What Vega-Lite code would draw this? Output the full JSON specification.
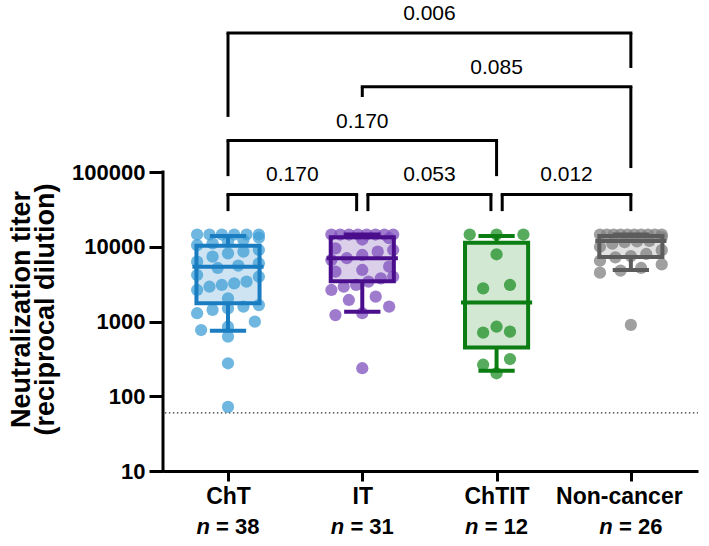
{
  "$schema": "https://vega.github.io/schema/vega-lite/v6.json",
  "width": 535,
  "height": 471,
  "autosize": {"type": "none"},
  "padding": {"left": 163, "top": 0, "right": 11, "bottom": 75},
  "background": "white",
  "config": {"view": {"stroke": null}, "font": "Liberation Sans"},
  "datasets": {
    "points": [
      {"group": "ChT", "titer": 14580}, {"group": "ChT", "titer": 14580}, {"group": "ChT", "titer": 14580},
      {"group": "ChT", "titer": 14580}, {"group": "ChT", "titer": 14580}, {"group": "ChT", "titer": 14580},
      {"group": "ChT", "titer": 13200}, {"group": "ChT", "titer": 12300}, {"group": "ChT", "titer": 11700},
      {"group": "ChT", "titer": 11100}, {"group": "ChT", "titer": 10500}, {"group": "ChT", "titer": 9060},
      {"group": "ChT", "titer": 8600}, {"group": "ChT", "titer": 8170}, {"group": "ChT", "titer": 7370},
      {"group": "ChT", "titer": 6310}, {"group": "ChT", "titer": 6010}, {"group": "ChT", "titer": 5600},
      {"group": "ChT", "titer": 5200}, {"group": "ChT", "titer": 4190}, {"group": "ChT", "titer": 3970},
      {"group": "ChT", "titer": 3410}, {"group": "ChT", "titer": 3240}, {"group": "ChT", "titer": 3080},
      {"group": "ChT", "titer": 2920}, {"group": "ChT", "titer": 2640}, {"group": "ChT", "titer": 2040},
      {"group": "ChT", "titer": 1660}, {"group": "ChT", "titer": 1580}, {"group": "ChT", "titer": 1500},
      {"group": "ChT", "titer": 1430}, {"group": "ChT", "titer": 1290}, {"group": "ChT", "titer": 994},
      {"group": "ChT", "titer": 851}, {"group": "ChT", "titer": 769}, {"group": "ChT", "titer": 627},
      {"group": "ChT", "titer": 276}, {"group": "ChT", "titer": 72},
      {"group": "IT", "titer": 14580}, {"group": "IT", "titer": 14580}, {"group": "IT", "titer": 14580},
      {"group": "IT", "titer": 14580}, {"group": "IT", "titer": 14580}, {"group": "IT", "titer": 14580},
      {"group": "IT", "titer": 14580}, {"group": "IT", "titer": 14580}, {"group": "IT", "titer": 13000},
      {"group": "IT", "titer": 12500}, {"group": "IT", "titer": 9530}, {"group": "IT", "titer": 9060},
      {"group": "IT", "titer": 8600}, {"group": "IT", "titer": 7760}, {"group": "IT", "titer": 7020},
      {"group": "IT", "titer": 6650}, {"group": "IT", "titer": 5410}, {"group": "IT", "titer": 4890},
      {"group": "IT", "titer": 4640}, {"group": "IT", "titer": 3970}, {"group": "IT", "titer": 3780},
      {"group": "IT", "titer": 3410}, {"group": "IT", "titer": 3080}, {"group": "IT", "titer": 2920},
      {"group": "IT", "titer": 2640}, {"group": "IT", "titer": 2150}, {"group": "IT", "titer": 1940},
      {"group": "IT", "titer": 1580}, {"group": "IT", "titer": 1290}, {"group": "IT", "titer": 1220},
      {"group": "IT", "titer": 237},
      {"group": "ChTIT", "titer": 14580}, {"group": "ChTIT", "titer": 14580}, {"group": "ChTIT", "titer": 14580},
      {"group": "ChTIT", "titer": 7930}, {"group": "ChTIT", "titer": 3080}, {"group": "ChTIT", "titer": 2780},
      {"group": "ChTIT", "titer": 851}, {"group": "ChTIT", "titer": 731}, {"group": "ChTIT", "titer": 709},
      {"group": "ChTIT", "titer": 315}, {"group": "ChTIT", "titer": 264}, {"group": "ChTIT", "titer": 203},
      {"group": "Non-cancer", "titer": 14580}, {"group": "Non-cancer", "titer": 14580}, {"group": "Non-cancer", "titer": 14580},
      {"group": "Non-cancer", "titer": 14580}, {"group": "Non-cancer", "titer": 14580}, {"group": "Non-cancer", "titer": 14580},
      {"group": "Non-cancer", "titer": 14580}, {"group": "Non-cancer", "titer": 14580}, {"group": "Non-cancer", "titer": 14580},
      {"group": "Non-cancer", "titer": 14580}, {"group": "Non-cancer", "titer": 13500}, {"group": "Non-cancer", "titer": 12000},
      {"group": "Non-cancer", "titer": 11800}, {"group": "Non-cancer", "titer": 11500}, {"group": "Non-cancer", "titer": 11000},
      {"group": "Non-cancer", "titer": 10000}, {"group": "Non-cancer", "titer": 9000}, {"group": "Non-cancer", "titer": 8000},
      {"group": "Non-cancer", "titer": 7500}, {"group": "Non-cancer", "titer": 7200}, {"group": "Non-cancer", "titer": 6500},
      {"group": "Non-cancer", "titer": 5800}, {"group": "Non-cancer", "titer": 5200}, {"group": "Non-cancer", "titer": 4800},
      {"group": "Non-cancer", "titer": 4500}, {"group": "Non-cancer", "titer": 900}
    ],
    "stats": [
      {"group": "ChT", "lo": 750, "q1": 1750, "med": 5400, "q3": 10300, "hi": 13900},
      {"group": "IT", "lo": 1350, "q1": 3450, "med": 7000, "q3": 13400, "hi": 14580},
      {"group": "ChTIT", "lo": 220, "q1": 450, "med": 1800, "q3": 11300, "hi": 13900},
      {"group": "Non-cancer", "lo": 4900, "q1": 7300, "med": 11900, "q3": 13900, "hi": 14580}
    ],
    "brackets": [
      {"from": "ChT", "to": "IT", "p": "0.170", "tier": 1, "dl": 0.69, "dr": 0.69},
      {"from": "IT", "to": "ChTIT", "p": "0.053", "tier": 1, "dl": 0.69, "dr": 0.69},
      {"from": "ChTIT", "to": "Non-cancer", "p": "0.012", "tier": 1, "dl": 0.69, "dr": 0.69},
      {"from": "ChT", "to": "ChTIT", "p": "0.170", "tier": 2, "dl": 1.34, "dr": 1.34},
      {"from": "IT", "to": "Non-cancer", "p": "0.085", "tier": 3, "dl": 2.81, "dr": 1.49},
      {"from": "ChT", "to": "Non-cancer", "p": "0.006", "tier": 4, "dl": 2.44, "dr": 3.35}
    ],
    "groups": [
      {"group": "ChT", "n": "38"}, {"group": "IT", "n": "31"},
      {"group": "ChTIT", "n": "12"}, {"group": "Non-cancer", "n": "26"}
    ]
  },
  "layer": [
    {
      "data": {"name": "stats"},
      "transform": [
        {"calculate": "indexof(['ChT','IT','ChTIT','Non-cancer'], datum.group)", "as": "idx"},
        {"calculate": "datum.idx - 0.235", "as": "xl"},
        {"calculate": "datum.idx + 0.235", "as": "xr"}
      ],
      "mark": {"type": "rect", "strokeWidth": 0},
      "encoding": {
        "x": {
          "field": "xl", "type": "quantitative",
          "scale": {"domain": [-0.484, 3.5], "nice": false, "zero": false},
          "axis": {
            "values": [0, 1, 2, 3],
            "labelExpr": "['ChT','IT','ChTIT','Non-cancer'][datum.value]",
            "title": null, "grid": false,
            "domainColor": "black", "domainWidth": 3,
            "tickColor": "black", "tickWidth": 3, "tickSize": 10,
            "labelFontSize": 23, "labelFontWeight": "bold", "labelColor": "black",
            "labelPadding": 4, "labelFlush": false, "labelOverlap": false,
            "labelOffset": {"condition": {"test": "datum.value == 3", "value": -12}, "value": 0}
          }
        },
        "x2": {"field": "xr"},
        "y": {
          "field": "q1", "type": "quantitative",
          "scale": {"type": "log", "domain": [10, 20000000], "nice": false},
          "axis": {
            "values": [10, 100, 1000, 10000, 100000],
            "format": "d",
            "domain": false, "grid": false,
            "tickColor": "black", "tickWidth": 3, "tickSize": 14,
            "labelFontSize": 22, "labelFontWeight": "bold", "labelColor": "black",
            "labelPadding": 4, "labelFlush": false, "labelOverlap": false,
            "title": ["Neutralization titer", "(reciprocal dilution)"],
            "titleFontSize": 27, "titleFontWeight": "bold", "titleColor": "black",
            "titleLineHeight": 24, "titleAngle": 270,
            "titleAlign": "center", "titleBaseline": "middle",
            "titleX": -142, "titleY": 309
          }
        },
        "y2": {"field": "q3"},
        "fill": {
          "field": "group", "type": "nominal",
          "scale": {"domain": ["ChT", "IT", "ChTIT", "Non-cancer"], "range": ["#cfe4f3", "#dbd0ea", "#d2e8d2", "#e2e2e2"]},
          "legend": null
        }
      }
    },
    {
      "data": {"values": [{"k": 1}]},
      "mark": {"type": "rule", "color": "black", "strokeWidth": 3, "strokeCap": "square"},
      "encoding": {
        "x": {"datum": -0.484, "type": "quantitative"},
        "y": {"datum": 10, "type": "quantitative"},
        "y2": {"datum": 100000}
      }
    },
    {
      "data": {"values": [{"k": 1}]},
      "mark": {"type": "rule", "color": "#333333", "strokeWidth": 1.3, "strokeDash": [1.5, 2.5]},
      "encoding": {
        "x": {"datum": -0.47, "type": "quantitative"},
        "x2": {"datum": 3.5},
        "y": {"datum": 60, "type": "quantitative"}
      }
    },
    {
      "data": {"name": "points"},
      "transform": [
        {"calculate": "indexof(['ChT','IT','ChTIT','Non-cancer'], datum.group)", "as": "idx"},
        {"calculate": "floor(log(datum.titer)/LN10/0.18)", "as": "bin"},
        {"window": [{"op": "row_number", "as": "r"}], "groupby": ["group", "bin"], "sort": [{"field": "titer", "order": "ascending"}]},
        {"joinaggregate": [{"op": "count", "as": "cnt"}], "groupby": ["group", "bin"]},
        {"calculate": "datum.idx + (datum.r - (datum.cnt + 1) / 2) * min(0.2, 0.46 / max(datum.cnt - 1, 1))", "as": "xp"}
      ],
      "mark": {"type": "circle", "size": 150, "opacity": 0.75},
      "encoding": {
        "x": {"field": "xp", "type": "quantitative"},
        "y": {"field": "titer", "type": "quantitative"},
        "color": {
          "field": "group", "type": "nominal",
          "scale": {"domain": ["ChT", "IT", "ChTIT", "Non-cancer"], "range": ["#3f9fd6", "#7f4fbd", "#1f8f26", "#808080"]},
          "legend": null
        }
      }
    },
    {
      "data": {"name": "stats"},
      "transform": [
        {"calculate": "indexof(['ChT','IT','ChTIT','Non-cancer'], datum.group)", "as": "idx"},
        {"calculate": "datum.idx - 0.235", "as": "xl"},
        {"calculate": "datum.idx + 0.235", "as": "xr"}
      ],
      "mark": {"type": "rect", "fill": "transparent", "strokeWidth": 4},
      "encoding": {
        "x": {"field": "xl", "type": "quantitative"},
        "x2": {"field": "xr"},
        "y": {"field": "q1", "type": "quantitative"},
        "y2": {"field": "q3"},
        "stroke": {
          "field": "group", "type": "nominal",
          "scale": {"domain": ["ChT", "IT", "ChTIT", "Non-cancer"], "range": ["#1a7cc1", "#4a0e8c", "#0b7d12", "#5c5c5c"]},
          "legend": null
        }
      }
    },
    {
      "data": {"name": "stats"},
      "transform": [
        {"calculate": "indexof(['ChT','IT','ChTIT','Non-cancer'], datum.group)", "as": "idx"},
        {"calculate": "datum.idx - 0.265", "as": "xl"},
        {"calculate": "datum.idx + 0.265", "as": "xr"}
      ],
      "mark": {"type": "rule", "strokeWidth": 4},
      "encoding": {
        "x": {"field": "xl", "type": "quantitative"},
        "x2": {"field": "xr"},
        "y": {"field": "med", "type": "quantitative"},
        "stroke": {"field": "group", "type": "nominal", "legend": null}
      }
    },
    {
      "data": {"name": "stats"},
      "transform": [
        {"calculate": "indexof(['ChT','IT','ChTIT','Non-cancer'], datum.group)", "as": "idx"}
      ],
      "mark": {"type": "rule", "strokeWidth": 4},
      "encoding": {
        "x": {"field": "idx", "type": "quantitative"},
        "y": {"field": "q3", "type": "quantitative"},
        "y2": {"field": "hi"},
        "stroke": {"field": "group", "type": "nominal", "legend": null}
      }
    },
    {
      "data": {"name": "stats"},
      "transform": [
        {"calculate": "indexof(['ChT','IT','ChTIT','Non-cancer'], datum.group)", "as": "idx"}
      ],
      "mark": {"type": "rule", "strokeWidth": 4},
      "encoding": {
        "x": {"field": "idx", "type": "quantitative"},
        "y": {"field": "lo", "type": "quantitative"},
        "y2": {"field": "q1"},
        "stroke": {"field": "group", "type": "nominal", "legend": null}
      }
    },
    {
      "data": {"name": "stats"},
      "transform": [
        {"calculate": "indexof(['ChT','IT','ChTIT','Non-cancer'], datum.group)", "as": "idx"},
        {"fold": ["lo", "hi"], "as": ["end", "val"]},
        {"calculate": "datum.idx - 0.135", "as": "xl"},
        {"calculate": "datum.idx + 0.135", "as": "xr"}
      ],
      "mark": {"type": "rule", "strokeWidth": 4},
      "encoding": {
        "x": {"field": "xl", "type": "quantitative"},
        "x2": {"field": "xr"},
        "y": {"field": "val", "type": "quantitative"},
        "stroke": {"field": "group", "type": "nominal", "legend": null}
      }
    },
    {
      "data": {"name": "brackets"},
      "transform": [
        {"calculate": "indexof(['ChT','IT','ChTIT','Non-cancer'], datum.from) + (datum.tier == 1 && datum.from != 'ChT' ? 0.042 : 0)", "as": "a"},
        {"calculate": "indexof(['ChT','IT','ChTIT','Non-cancer'], datum.to) - (datum.tier == 1 && datum.to != 'Non-cancer' ? 0.042 : 0)", "as": "b"},
        {"calculate": "pow(10, 4.70 + 0.72 * (datum.tier - 1))", "as": "yb"}
      ],
      "mark": {"type": "rule", "color": "black", "strokeWidth": 3, "strokeCap": "square"},
      "encoding": {
        "x": {"field": "a", "type": "quantitative"},
        "x2": {"field": "b"},
        "y": {"field": "yb", "type": "quantitative"}
      }
    },
    {
      "data": {"name": "brackets"},
      "transform": [
        {"calculate": "indexof(['ChT','IT','ChTIT','Non-cancer'], datum.from) + (datum.tier == 1 && datum.from != 'ChT' ? 0.042 : 0)", "as": "a"},
        {"calculate": "pow(10, 4.70 + 0.72 * (datum.tier - 1))", "as": "yb"},
        {"calculate": "pow(10, 4.70 + 0.72 * (datum.dl - 1))", "as": "yl"}
      ],
      "mark": {"type": "rule", "color": "black", "strokeWidth": 3},
      "encoding": {
        "x": {"field": "a", "type": "quantitative"},
        "y": {"field": "yb", "type": "quantitative"},
        "y2": {"field": "yl"}
      }
    },
    {
      "data": {"name": "brackets"},
      "transform": [
        {"calculate": "indexof(['ChT','IT','ChTIT','Non-cancer'], datum.to) - (datum.tier == 1 && datum.to != 'Non-cancer' ? 0.042 : 0)", "as": "b"},
        {"calculate": "pow(10, 4.70 + 0.72 * (datum.tier - 1))", "as": "yb"},
        {"calculate": "pow(10, 4.70 + 0.72 * (datum.dr - 1))", "as": "yr"}
      ],
      "mark": {"type": "rule", "color": "black", "strokeWidth": 3},
      "encoding": {
        "x": {"field": "b", "type": "quantitative"},
        "y": {"field": "yb", "type": "quantitative"},
        "y2": {"field": "yr"}
      }
    },
    {
      "data": {"name": "brackets"},
      "transform": [
        {"calculate": "indexof(['ChT','IT','ChTIT','Non-cancer'], datum.from) + (datum.tier == 1 && datum.from != 'ChT' ? 0.042 : 0)", "as": "a"},
        {"calculate": "indexof(['ChT','IT','ChTIT','Non-cancer'], datum.to) - (datum.tier == 1 && datum.to != 'Non-cancer' ? 0.042 : 0)", "as": "b"},
        {"calculate": "(datum.a + datum.b) / 2", "as": "m"},
        {"calculate": "pow(10, 4.70 + 0.72 * (datum.tier - 1))", "as": "yb"}
      ],
      "mark": {"type": "text", "fontSize": 21, "color": "black", "align": "center", "baseline": "alphabetic", "dy": -13},
      "encoding": {
        "x": {"field": "m", "type": "quantitative"},
        "y": {"field": "yb", "type": "quantitative"},
        "text": {"field": "p"}
      }
    },
    {
      "data": {"name": "groups"},
      "transform": [
        {"calculate": "indexof(['ChT','IT','ChTIT','Non-cancer'], datum.group)", "as": "idx"}
      ],
      "mark": {"type": "text", "fontSize": 22, "fontWeight": "bold", "fontStyle": "italic", "color": "black", "align": "left", "baseline": "alphabetic", "dx": -31.5},
      "encoding": {
        "x": {"field": "idx", "type": "quantitative"},
        "y": {"datum": 1.44, "type": "quantitative"},
        "text": {"value": "n"}
      }
    },
    {
      "data": {"name": "groups"},
      "transform": [
        {"calculate": "indexof(['ChT','IT','ChTIT','Non-cancer'], datum.group)", "as": "idx"},
        {"calculate": "'= ' + datum.n", "as": "lab"}
      ],
      "mark": {"type": "text", "fontSize": 22, "fontWeight": "bold", "color": "black", "align": "left", "baseline": "alphabetic", "dx": -11.9},
      "encoding": {
        "x": {"field": "idx", "type": "quantitative"},
        "y": {"datum": 1.44, "type": "quantitative"},
        "text": {"field": "lab"}
      }
    }
  ]
}
